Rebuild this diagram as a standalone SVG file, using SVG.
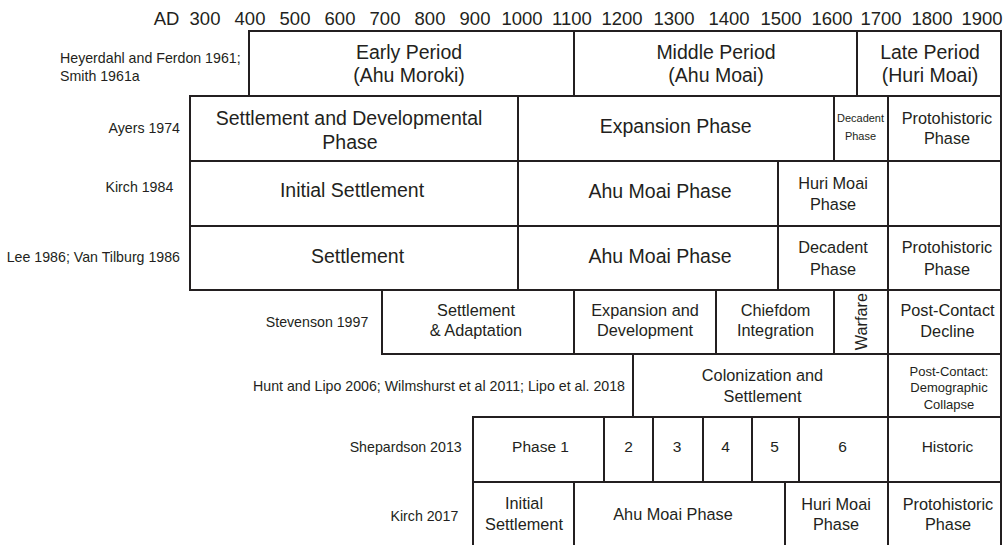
<svg xmlns="http://www.w3.org/2000/svg" width="1005" height="545" viewBox="0 0 1005 545">
<style>
.cell{fill:#fff;stroke:#231f20;stroke-width:2}
text{font-family:"Liberation Sans",Arial,sans-serif;fill:#231f20}
.c{text-anchor:middle}
.big{font-size:19.5px}
.med{font-size:16.3px}
.s15{font-size:15.5px}
.sm{font-size:13px}
.xs{font-size:11px}
.lbl{font-size:14.2px;text-anchor:end}
.ax{font-size:18.5px;text-anchor:middle}
</style>
<rect width="1005" height="545" fill="#fff"/>
<g id="axis">
<text class="ax" x="166.5" y="25">AD</text>
<text class="ax" x="205" y="25">300</text>
<text class="ax" x="250" y="25">400</text>
<text class="ax" x="295" y="25">500</text>
<text class="ax" x="340" y="25">600</text>
<text class="ax" x="385" y="25">700</text>
<text class="ax" x="430" y="25">800</text>
<text class="ax" x="475" y="25">900</text>
<text class="ax" x="522" y="25">1000</text>
<text class="ax" x="572" y="25">1100</text>
<text class="ax" x="622" y="25">1200</text>
<text class="ax" x="674" y="25">1300</text>
<text class="ax" x="729" y="25">1400</text>
<text class="ax" x="781" y="25">1500</text>
<text class="ax" x="832" y="25">1600</text>
<text class="ax" x="881" y="25">1700</text>
<text class="ax" x="932" y="25">1800</text>
<text class="ax" x="982" y="25">1900</text>
</g>
<g id="row-labels">
<text style="font-size:14.2px" x="60" y="63.3">Heyerdahl and Ferdon 1961;</text>
<text style="font-size:14.2px" x="60" y="81">Smith 1961a</text>
<text class="lbl" x="180" y="132.7">Ayers 1974</text>
<text class="lbl" x="173.3" y="191.5">Kirch 1984</text>
<text class="lbl" x="180" y="261.7">Lee 1986; Van Tilburg 1986</text>
<text class="lbl" x="368.3" y="327">Stevenson 1997</text>
<text class="lbl" x="625" y="390.7">Hunt and Lipo 2006; Wilmshurst et al 2011; Lipo et al. 2018</text>
<text class="lbl" x="461.7" y="452">Shepardson 2013</text>
<text class="lbl" x="458.3" y="521">Kirch 2017</text>
</g>
<!-- Row 1 -->
<g id="early-period"><rect class="cell" x="249" y="31" width="325" height="65"/>
<text class="c big" x="409" y="58.5">Early Period</text><text class="c big" x="409" y="82">(Ahu Moroki)</text></g>
<g id="middle-period"><rect class="cell" x="574" y="31" width="283" height="65"/>
<text class="c big" x="716" y="58.5">Middle Period</text><text class="c big" x="716" y="82">(Ahu Moai)</text></g>
<g id="late-period"><rect class="cell" x="857" y="31" width="144" height="65"/>
<text class="c big" x="930" y="58.5">Late Period</text><text class="c big" x="930" y="82">(Huri Moai)</text></g>
<!-- Row 2 -->
<g id="ayers-settlement"><rect class="cell" x="190" y="96" width="328" height="65"/>
<text class="c big" x="349" y="125">Settlement and Developmental</text><text class="c big" x="350" y="149.3">Phase</text></g>
<g id="ayers-expansion"><rect class="cell" x="518" y="96" width="316" height="65"/>
<text class="c big" x="675.6" y="132.7">Expansion Phase</text></g>
<g id="ayers-decadent"><rect class="cell" x="834" y="96" width="54" height="65"/>
<text class="c xs" x="860.5" y="121.7">Decadent</text><text class="c xs" x="860.5" y="139.5">Phase</text></g>
<g id="ayers-protohistoric"><rect class="cell" x="888" y="96" width="113" height="65"/>
<text class="c med" x="947" y="124.3">Protohistoric</text><text class="c med" x="947" y="144.3">Phase</text></g>
<!-- Row 3 -->
<g id="kirch84-initial"><rect class="cell" x="190" y="161" width="328" height="65"/>
<text class="c big" x="352" y="197">Initial Settlement</text></g>
<g id="kirch84-ahumoai"><rect class="cell" x="518" y="161" width="260" height="65"/>
<text class="c big" x="660" y="198">Ahu Moai Phase</text></g>
<g id="kirch84-hurimoai"><rect class="cell" x="778" y="161" width="110" height="65"/>
<text class="c med" x="833" y="189">Huri Moai</text><text class="c med" x="833" y="210">Phase</text></g>
<g id="kirch84-empty"><rect class="cell" x="888" y="161" width="113" height="65"/></g>
<!-- Row 4 -->
<g id="lee-settlement"><rect class="cell" x="190" y="226" width="328" height="64"/>
<text class="c big" x="357.5" y="262.7">Settlement</text></g>
<g id="lee-ahumoai"><rect class="cell" x="518" y="226" width="260" height="64"/>
<text class="c big" x="660" y="263">Ahu Moai Phase</text></g>
<g id="lee-decadent"><rect class="cell" x="778" y="226" width="110" height="64"/>
<text class="c med" x="833" y="253.3">Decadent</text><text class="c med" x="833" y="275">Phase</text></g>
<g id="lee-protohistoric"><rect class="cell" x="888" y="226" width="113" height="64"/>
<text class="c med" x="947" y="253.3">Protohistoric</text><text class="c med" x="947" y="275">Phase</text></g>
<!-- Row 5 -->
<g id="stevenson-settlement"><rect class="cell" x="382" y="290" width="192" height="64"/>
<text class="c med" x="476" y="315.7">Settlement</text><text class="c med" x="476" y="336">&amp; Adaptation</text></g>
<g id="stevenson-expansion"><rect class="cell" x="574" y="290" width="142" height="64"/>
<text class="c med" x="645" y="315.5">Expansion and</text><text class="c med" x="645" y="335.7">Development</text></g>
<g id="stevenson-chiefdom"><rect class="cell" x="716" y="290" width="118" height="64"/>
<text class="c med" x="775.5" y="315.7">Chiefdom</text><text class="c med" x="775.5" y="335.7">Integration</text></g>
<g id="stevenson-warfare"><rect class="cell" x="834" y="290" width="54" height="64"/>
<text class="c med" transform="translate(866.5 321.7) rotate(-90)">Warfare</text></g>
<g id="stevenson-postcontact"><rect class="cell" x="888" y="290" width="113" height="64"/>
<text class="c med" x="947.5" y="316">Post-Contact</text><text class="c med" x="947.5" y="336.7">Decline</text></g>
<!-- Row 6 -->
<g id="hunt-colonization"><rect class="cell" x="633" y="354" width="255" height="63"/>
<text class="c med" x="762.5" y="381">Colonization and</text><text class="c med" x="762.5" y="401.7">Settlement</text></g>
<g id="hunt-postcontact"><rect class="cell" x="888" y="354" width="113" height="63"/>
<text class="c sm" x="949" y="375.7">Post-Contact:</text><text class="c sm" x="949" y="392.3">Demographic</text><text class="c sm" x="949" y="409">Collapse</text></g>
<!-- Row 7 -->
<g id="shep-phase1"><rect class="cell" x="473" y="417" width="131" height="65"/>
<text class="c s15" x="540.5" y="452">Phase 1</text></g>
<g id="shep-2"><rect class="cell" x="604" y="417" width="49" height="65"/>
<text class="c s15" x="628.5" y="452">2</text></g>
<g id="shep-3"><rect class="cell" x="653" y="417" width="50" height="65"/>
<text class="c s15" x="677" y="452">3</text></g>
<g id="shep-4"><rect class="cell" x="703" y="417" width="49" height="65"/>
<text class="c s15" x="725.5" y="452">4</text></g>
<g id="shep-5"><rect class="cell" x="752" y="417" width="47" height="65"/>
<text class="c s15" x="774.5" y="452">5</text></g>
<g id="shep-6"><rect class="cell" x="799" y="417" width="89" height="65"/>
<text class="c s15" x="842.5" y="452">6</text></g>
<g id="shep-historic"><rect class="cell" x="888" y="417" width="113" height="65"/>
<text class="c s15" x="947.5" y="452">Historic</text></g>
<!-- Row 8 -->
<g id="kirch17-initial"><rect class="cell" x="473" y="482" width="101" height="80"/>
<text class="c med" x="524" y="509.3">Initial</text><text class="c med" x="524" y="529.5">Settlement</text></g>
<g id="kirch17-ahumoai"><rect class="cell" x="574" y="482" width="211" height="80"/>
<text class="c med" x="673" y="520">Ahu Moai Phase</text></g>
<g id="kirch17-hurimoai"><rect class="cell" x="785" y="482" width="103" height="80"/>
<text class="c med" x="836" y="510">Huri Moai</text><text class="c med" x="836" y="530">Phase</text></g>
<g id="kirch17-protohistoric"><rect class="cell" x="888" y="482" width="113" height="80"/>
<text class="c med" x="948" y="510">Protohistoric</text><text class="c med" x="948" y="530">Phase</text></g>
</svg>
